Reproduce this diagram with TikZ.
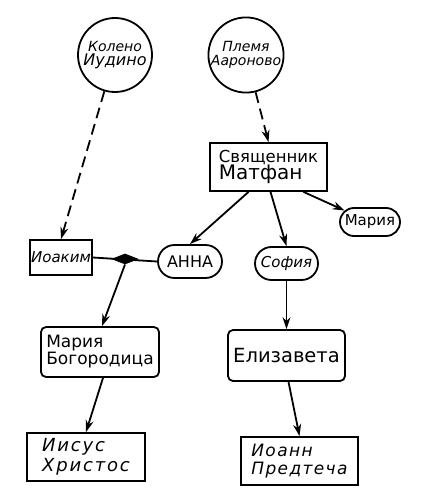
\documentclass[tikz,border=0pt]{standalone}
\usepackage{fontspec}
\setmainfont{DejaVu Sans}
\usetikzlibrary{arrows.meta,shapes.geometric,shapes.misc,calc}
\tikzset{
  ln/.style={line width=1.8pt},
  arr/.style={ln,-{Stealth[length=12pt,width=8pt]}},
  darr/.style={arr,dash pattern=on 11pt off 6pt},
  circ/.style={ln,draw,circle,minimum size=74pt,inner sep=0pt,align=center},
  sqbox/.style={ln,draw,rectangle,inner sep=0pt,align=center},
  rbox/.style={ln,draw,rectangle,rounded corners=5pt,inner sep=0pt,align=center},
  oval/.style={ln,draw,rounded rectangle,inner sep=0pt,align=center},
}
\begin{document}
\begin{tikzpicture}[x=1pt,y=-1pt]
\useasboundingbox (0,0) rectangle (442,500);
\node[circ] (kol) at (115,55) {\fontsize{14}{17}\selectfont\itshape Колено\\[2pt]\fontsize{16}{17}\selectfont\itshape Иудино};
\node[circ] (plem) at (246,55) {\fontsize{14}{17}\selectfont\itshape Племя\\[2pt]\fontsize{14}{17}\selectfont\itshape Аароново};
\node[sqbox,minimum width=117pt,minimum height=48pt,align=left] (mat) at (268.5,167) {\fontsize{16.5}{21}\selectfont Священник\\\fontsize{20}{21}\selectfont Матфан};
\node[oval,minimum width=60pt,minimum height=28pt] (mar) at (370,222) {\fontsize{15}{16}\selectfont Мария};
\node[sqbox,minimum width=62pt,minimum height=35pt] (ioak) at (61,257.5) {\fontsize{15}{16}\selectfont\itshape Иоаким};
\node[oval,minimum width=64pt,minimum height=33pt] (anna) at (190,261.5) {\fontsize{16}{17}\selectfont АННА};
\node[oval,minimum width=63pt,minimum height=33pt] (sof) at (286.5,263.5) {\fontsize{15}{17}\selectfont\itshape София};
\node[rbox,minimum width=118pt,minimum height=50pt,align=left] (mb) at (100,352) {\fontsize{17}{21}\selectfont Мария\\\fontsize{17}{21}\selectfont Богородица};
\node[rbox,minimum width=117pt,minimum height=51pt] (el) at (286.5,355.5) {\fontsize{19.5}{21}\selectfont Елизавета};
\node[sqbox,minimum width=118pt,minimum height=48pt,align=left] (ii) at (86,457) {\fontsize{18}{22}\selectfont\itshape\addfontfeatures{LetterSpace=10}Иисус\\[2pt]\fontsize{18}{22}\selectfont\itshape\addfontfeatures{LetterSpace=10}Христос};
\node[sqbox,minimum width=117pt,minimum height=48pt,align=left] (io) at (299.5,461) {\fontsize{17}{22}\selectfont\itshape\addfontfeatures{LetterSpace=8}Иоанн\\[4pt]\fontsize{17}{22}\selectfont\itshape\addfontfeatures{LetterSpace=8}Предтеча};
\draw[ln] (ioak.east) -- (anna.west);
\node[diamond,fill,draw,line width=1pt,inner sep=0pt,minimum width=25pt,minimum height=10pt] (dia) at (125,259) {};
\draw[darr] (kol) -- (ioak.north);
\draw[darr] (plem) -- (mat.north);
\draw[arr] ([xshift=-20pt]mat.south) -- (anna.north);
\draw[arr] ([xshift=2pt]mat.south) -- (sof.north);
\draw[arr] ([xshift=35pt]mat.south) -- (mar);
\draw[arr] (dia.south) -- ([xshift=2pt]mb.north);
\draw[arr] (sof.south) -- (el.north);
\draw[arr] ([xshift=3pt]mb.south) -- (ii.north);
\draw[arr] ([xshift=2pt]el.south) -- (io.north);
\end{tikzpicture}
\end{document}
